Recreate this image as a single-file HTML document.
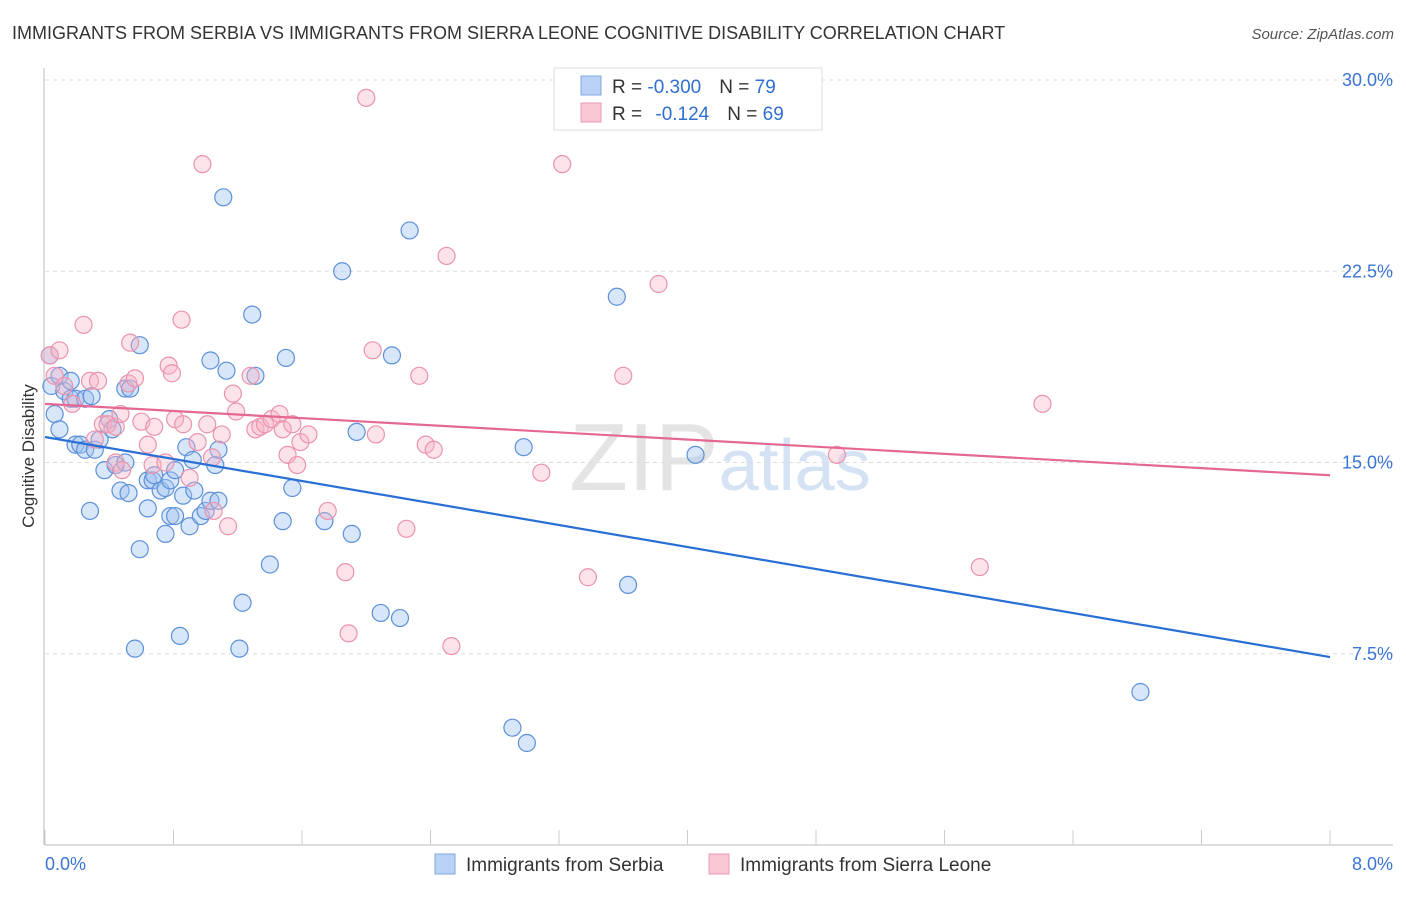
<!DOCTYPE html>
<html><head><meta charset="utf-8"><style>
body{margin:0;background:#fff;font-family:"Liberation Sans",sans-serif;}
svg text{font-family:"Liberation Sans",sans-serif;}
</style></head><body>
<svg id="chart" width="1406" height="892" viewBox="0 0 1406 892" xmlns="http://www.w3.org/2000/svg">
<text x="12" y="39" font-size="18" fill="#333">IMMIGRANTS FROM SERBIA VS IMMIGRANTS FROM SIERRA LEONE COGNITIVE DISABILITY CORRELATION CHART</text>
<text x="1394" y="39" font-size="15" fill="#555" text-anchor="end" font-style="italic">Source: ZipAtlas.com</text>
<text x="720" y="490" font-size="96" text-anchor="middle" fill="#e4e4e4" font-family="Liberation Serif">ZIP<tspan fill="#d4e2f4" font-family="Liberation Sans" font-size="72">atlas</tspan></text>
<g id="grid"></g>
<g id="axes"></g>
<g id="pts"></g>
<g id="trend"></g>
<text transform="translate(34,456) rotate(-90)" font-size="17" fill="#333" text-anchor="middle">Cognitive Disability</text>
<g>
<rect x="554" y="68" width="268" height="62" fill="#fff" stroke="#ddd"/>
<rect x="581" y="76" width="20" height="19" fill="#b9d2f5" stroke="#7fa8e0"/>
<rect x="581" y="103" width="20" height="19" fill="#f9c6d4" stroke="#ee9ab3"/>
<text x="612" y="93" font-size="19" fill="#333">R = <tspan fill="#2f6fd0">-0.300</tspan><tspan dx="18">N = </tspan><tspan fill="#2f6fd0">79</tspan></text>
<text x="612" y="120" font-size="19" fill="#333">R = <tspan fill="#2f6fd0" dx="8">-0.124</tspan><tspan dx="18">N = </tspan><tspan fill="#2f6fd0">69</tspan></text>
</g>
<g>
<rect x="435" y="854" width="20" height="20" fill="#b9d2f5" stroke="#7fa8e0"/>
<text x="466" y="871" font-size="19" fill="#333">Immigrants from Serbia</text>
<rect x="709" y="854" width="20" height="20" fill="#f9c6d4" stroke="#ee9ab3"/>
<text x="740" y="871" font-size="19" fill="#333">Immigrants from Sierra Leone</text>
</g>
</svg>
<script>
const xTicks=[0,0.8,1.6,2.4,3.2,4.0,4.8,5.6,6.4,7.2,8.0];
const yTicks=[7.5,15.0,22.5,30.0];
const yTickLabels=["7.5%","15.0%","22.5%","30.0%"];
const xEndLabels=["0.0%","8.0%"];
const serbiaX=[0.03,0.04,0.06,0.09,0.12,0.16,0.19,0.25,0.29,0.19,0.22,0.25,0.31,0.34,0.37,0.40,0.42,0.44,0.50,0.47,0.52,0.28,0.59,0.56,0.59,0.50,0.53,0.64,0.67,0.68,0.72,0.75,0.78,0.81,0.64,0.78,0.81,0.75,0.84,0.86,0.88,0.92,0.90,0.97,1.00,1.03,1.06,1.08,1.08,0.93,1.03,1.11,1.13,1.21,1.23,1.29,1.31,1.40,1.48,1.50,1.54,1.74,1.85,1.91,1.94,2.09,2.16,2.21,2.27,2.91,2.98,3.00,3.56,3.63,4.05,6.82,0.09,0.16];
const serbiaY=[19.2,18.0,16.9,16.3,17.8,17.5,17.5,17.5,17.6,15.7,15.7,15.5,15.5,15.9,14.7,16.7,16.3,14.9,15.0,13.9,13.8,13.1,11.6,7.7,19.6,17.9,17.9,14.3,14.3,14.5,13.9,14.0,14.3,14.7,13.2,12.9,12.9,12.2,8.2,13.7,15.6,15.1,12.5,12.9,13.1,13.5,14.9,15.5,13.5,13.9,19.0,25.4,18.6,7.7,9.5,20.8,18.4,11.0,12.7,19.1,14.0,12.7,22.5,12.2,16.2,9.1,19.2,8.9,24.1,4.6,15.6,4.0,21.5,10.2,15.3,6.0,18.4,18.2];
const leoneX=[0.03,0.06,0.09,0.12,0.17,0.24,0.28,0.31,0.33,0.36,0.39,0.44,0.48,0.52,0.53,0.56,0.60,0.64,0.67,0.68,0.75,0.77,0.79,0.81,0.85,0.86,0.90,0.95,0.98,1.01,1.04,1.05,1.10,1.14,1.19,1.17,1.28,1.31,1.34,1.37,1.41,1.46,1.48,1.51,1.54,1.57,1.59,1.64,1.76,1.87,1.89,2.00,2.04,2.06,2.25,2.33,2.37,2.42,2.50,2.53,3.09,3.22,3.38,3.60,3.82,4.93,5.82,6.21,0.44,0.47];
const leoneY=[19.2,18.4,19.4,18.0,17.3,20.4,18.2,15.9,18.2,16.5,16.5,15.0,14.7,18.1,19.7,18.3,16.6,15.7,14.9,16.4,15.0,18.8,18.5,16.7,20.6,16.5,14.4,15.8,26.7,16.5,15.2,13.1,16.1,12.5,17.0,17.7,18.4,16.3,16.4,16.5,16.7,16.9,16.3,15.3,16.5,14.9,15.8,16.1,13.1,10.7,8.3,29.3,19.4,16.1,12.4,18.4,15.7,15.5,23.1,7.8,14.6,26.7,10.5,18.4,22.0,15.3,10.9,17.3,16.4,16.9];
const serbiaTrend=[16.0,7.37];
const leoneTrend=[17.3,14.5];
const NS="http://www.w3.org/2000/svg";
const X0=45,X1=1330,Y0=845,PXPERY=25.5;
function sx(v){return X0+(v/8)*(X1-X0);}
function sy(v){return Y0-v*PXPERY;}
function mk(tag,attrs,parent){const e=document.createElementNS(NS,tag);for(const k in attrs)e.setAttribute(k,attrs[k]);parent.appendChild(e);return e;}
const grid=document.getElementById('grid'),axes=document.getElementById('axes'),pts=document.getElementById('pts'),trend=document.getElementById('trend');
yTicks.forEach((t,i)=>{
  const l=mk('line',{x1:X0,x2:1393,y1:sy(t),y2:sy(t),stroke:'#ddd','stroke-dasharray':'4,4'},grid);
  
  
  const tx=mk('text',{x:1393,y:sy(t)+6,'font-size':18,fill:'#3a74d4','text-anchor':'end'},axes);
  tx.textContent=yTickLabels[i];
  
  
});
const ya=mk('line',{x1:44,x2:44,y1:68,y2:Y0,stroke:'#bbb'},axes);


const xa=mk('line',{x1:X0,x2:1393,y1:Y0,y2:Y0,stroke:'#bbb'},axes);


xTicks.forEach(t=>{
  const l=mk('line',{x1:sx(t),x2:sx(t),y1:Y0,y2:830,stroke:'#ccc'},axes);
  
  
});
const xl0=mk('text',{x:45,y:870,'font-size':18,fill:'#3a74d4'},axes);xl0.textContent=xEndLabels[0];


const xl1=mk('text',{x:1393,y:870,'font-size':18,fill:'#3a74d4','text-anchor':'end'},axes);xl1.textContent=xEndLabels[1];


function drawSeries(xs,ys,fill,stroke,name){
  xs.forEach((x,i)=>{
    const c=mk('circle',{cx:sx(x),cy:sy(ys[i]),r:8.5,fill:fill,stroke:stroke,'stroke-width':1.2},pts);
    
    
  });
}
drawSeries(serbiaX,serbiaY,'rgba(160,195,240,0.42)','#5d90da','serbia-point');
drawSeries(leoneX,leoneY,'rgba(248,178,198,0.38)','#eb93ad','sierra-leone-point');
const t1=mk('line',{x1:sx(0),y1:sy(serbiaTrend[0]),x2:sx(8),y2:sy(serbiaTrend[1]),stroke:'#2a6fd6','stroke-width':2.2},trend);


const t2=mk('line',{x1:sx(0),y1:sy(leoneTrend[0]),x2:sx(8),y2:sy(leoneTrend[1]),stroke:'#e46892','stroke-width':2.2},trend);


</script>
</body></html>
